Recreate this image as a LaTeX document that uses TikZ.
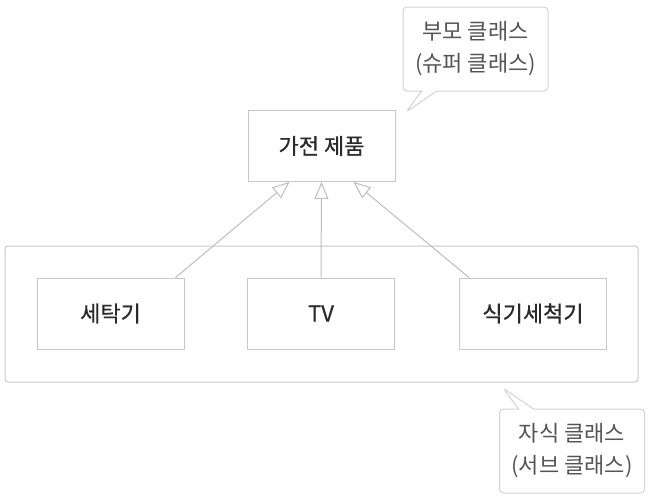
\documentclass[tikz,border=0pt]{standalone}
\usepackage{fontspec}
\setmainfont{Noto Sans CJK KR}
\newfontfamily\boxfont[FakeBold=0.6]{Noto Sans CJK KR}
\usetikzlibrary{arrows.meta, shapes.callouts}
\definecolor{linegray}{HTML}{BDBDBD}
\definecolor{boxgray}{HTML}{C8C8C8}
\definecolor{textdark}{HTML}{2A2A2A}
\definecolor{textgray}{HTML}{555555}

\begin{document}
\begin{tikzpicture}[x=1pt, y=-1pt,
        cls/.style={rectangle, draw=boxgray, line width=0.9pt, minimum width=147pt, minimum height=71pt, inner sep=0pt, font=\boxfont\fontsize{22}{24}\selectfont, text=textdark},
        group/.style={rectangle, draw=boxgray, line width=1pt, rounded corners=3pt, minimum width=633pt, minimum height=136pt},
        bubble/.style={rectangle callout, draw=boxgray!80, line width=1pt, rounded corners=4pt, fill=white, minimum width=145pt, minimum height=84pt, callout pointer width=15pt, align=center, font=\fontsize{22}{32}\selectfont, text=textgray},
        inherit/.style={-{Triangle[open, length=17pt, width=14pt]}, draw=linegray, line width=1pt}
        ]
        \useasboundingbox (0,0) rectangle (652,496);

        % group of sub classes
        \node[group] (sub) at (321.5,314) {};

        % classes
        \node[cls] (home) at (321.5,146) {가전 제품};
        \node[cls] (wash) at (110.5,313.5) {세탁기};
        \node[cls] (tv) at (321,313.5) {TV};
        \node[cls] (dish) at (533,313.5) {식기세척기};

        \draw[inherit] ([xshift=-9pt]wash.north east) -- ([xshift=-32pt]home.south);
        \draw[inherit] (tv.north) -- (home.south);
        \draw[inherit] ([xshift=10pt]dish.north west) -- ([xshift=32pt]home.south);

        % callouts
        \coordinate (ptop) at (406,112);
        \coordinate (psub) at (503,388);
        \node[bubble, callout absolute pointer={(ptop)}] (super) at (475.5,49) {부모 클래스\\(슈퍼 클래스)};
        \node[bubble, callout absolute pointer={(psub)}] (child) at (572,451) {자식 클래스\\(서브 클래스)};
    \end{tikzpicture}
\end{document}
